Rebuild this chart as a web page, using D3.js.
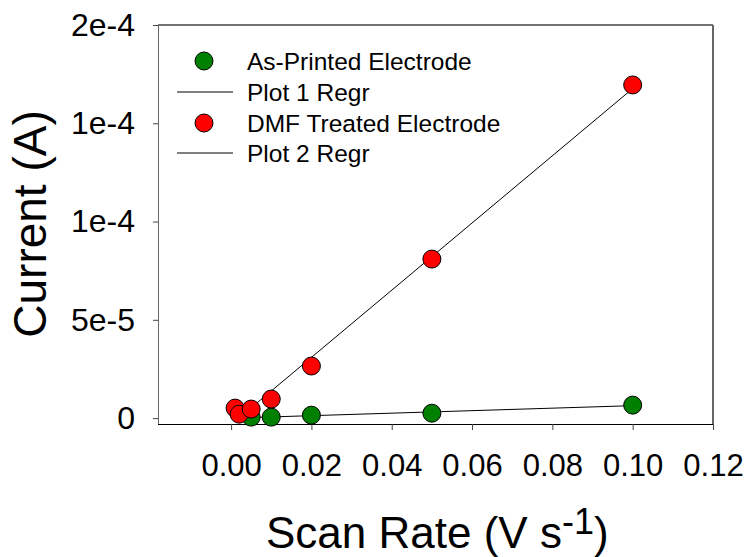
<!DOCTYPE html>
<html>
<head>
<meta charset="utf-8">
<script src="https://cdn.jsdelivr.net/npm/d3@7"></script>
<style>
  body { margin: 0; background: #fff; }
  text { font-family: "Liberation Sans", Arial, sans-serif; fill: #000; }
</style>
</head>
<body>
<div id="chart"></div>
<script>
// data
var printedRate = [0.005, 0.01, 0.02, 0.05, 0.10];
var printedCurrent = [0.5e-6, 0.5e-6, 1.5e-6, 2.5e-6, 6.6e-6];
var dmfRate = [0.001, 0.002, 0.005, 0.01, 0.02, 0.05, 0.10];
var dmfCurrent = [5.1e-6, 2.0e-6, 4.6e-6, 9.7e-6, 2.65e-5, 8.09e-5, 1.695e-4];
var xTicks = [0, 0.02, 0.04, 0.06, 0.08, 0.10, 0.12];
var yTicks = [0, 5e-5, 1e-4, 1.5e-4, 2e-4];
var yTickLabels = ["0", "5e-5", "1e-4", "1e-4", "2e-4"];
var legendLabels = ["As-Printed Electrode", "Plot 1 Regr", "DMF Treated Electrode", "Plot 2 Regr"];

var svgWidth = 749;
var svgHeight = 557;
var chartMargin = { top: 25, right: 36, bottom: 133, left: 158 };
var chartWidth = svgWidth - chartMargin.left - chartMargin.right;
var chartHeight = svgHeight - chartMargin.top - chartMargin.bottom;

var svg = d3.select("#chart")
  .append("svg")
  .attr("width", svgWidth)
  .attr("height", svgHeight);

var chartGroup = svg.append("g")
  .attr("transform", `translate(${chartMargin.left}, ${chartMargin.top})`);

var xScale = d3.scaleLinear()
  .domain([-0.0182, 0.12])
  .range([0, chartWidth]);

var yScale = d3.scaleLinear()
  .domain([-3e-6, 2e-4])
  .range([chartHeight, 0]);

// frame: top and right
chartGroup.append("line")
  .attr("x1", 0).attr("x2", chartWidth)
  .attr("y1", 0).attr("y2", 0)
  .attr("stroke", "#444").attr("stroke-width", 1.5);
chartGroup.append("line")
  .attr("x1", chartWidth).attr("x2", chartWidth)
  .attr("y1", 0).attr("y2", chartHeight)
  .attr("stroke", "#666").attr("stroke-width", 2);

// axes
var bottomAxis = d3.axisBottom(xScale)
  .tickValues(xTicks)
  .tickSize(6)
  .tickSizeOuter(0)
  .tickPadding(24)
  .tickFormat(d3.format(".2f"));

var leftAxis = d3.axisLeft(yScale)
  .tickValues(yTicks)
  .tickSize(5)
  .tickSizeOuter(0)
  .tickPadding(18)
  .tickFormat((d, i) => yTickLabels[i]);

var xAxisG = chartGroup.append("g")
  .attr("transform", `translate(0, ${chartHeight})`)
  .call(bottomAxis);
xAxisG.select(".domain").attr("stroke", "#000").attr("d", `M0,0.5H${chartWidth}`);
xAxisG.selectAll(".tick line").attr("stroke", "#444");
xAxisG.selectAll("text")
  .style("font-size", "31px")
  .style("font-family", "'Liberation Sans', Arial, sans-serif");

var yAxisG = chartGroup.append("g")
  .call(leftAxis);
yAxisG.select(".domain").attr("stroke", "#666").attr("d", `M0.5,0V${chartHeight}`);
yAxisG.selectAll(".tick line").attr("stroke", "#444");
yAxisG.selectAll("text")
  .style("font-size", "32px")
  .style("font-family", "'Liberation Sans', Arial, sans-serif");

// least squares fit over the data range
function regression(xs, ys) {
  var mx = d3.mean(xs), my = d3.mean(ys);
  var sxy = d3.sum(xs, (x, i) => (x - mx) * (ys[i] - my));
  var sxx = d3.sum(xs, x => (x - mx) * (x - mx));
  var slope = sxy / sxx;
  var icpt = my - slope * mx;
  var x0 = d3.min(xs), x1 = d3.max(xs);
  return [[x0, icpt + slope * x0], [x1, icpt + slope * x1]];
}

var line = d3.line()
  .x(d => xScale(d[0]))
  .y(d => yScale(d[1]));

chartGroup.append("path")
  .attr("d", line(regression(printedRate, printedCurrent)))
  .attr("stroke", "#000").attr("stroke-width", 1).attr("fill", "none");
chartGroup.append("path")
  .attr("d", line(regression(dmfRate, dmfCurrent)))
  .attr("stroke", "#000").attr("stroke-width", 1).attr("fill", "none");

var printedData = printedRate.map((x, i) => ({ x: x, y: printedCurrent[i] }));
var dmfData = dmfRate.map((x, i) => ({ x: x, y: dmfCurrent[i] }));

chartGroup.selectAll(".printed")
  .data(printedData)
  .enter()
  .append("circle")
  .attr("class", "printed")
  .attr("cx", d => xScale(d.x))
  .attr("cy", d => yScale(d.y))
  .attr("r", 9)
  .attr("fill", "#008000")
  .attr("stroke", "#000");

chartGroup.selectAll(".dmf")
  .data(dmfData)
  .enter()
  .append("circle")
  .attr("class", "dmf")
  .attr("cx", d => xScale(d.x))
  .attr("cy", d => yScale(d.y))
  .attr("r", 9)
  .attr("fill", "#ff0000")
  .attr("stroke", "#000");

// legend
var legend = svg.append("g");
var rowY = [61, 92, 123, 153];
legendLabels.forEach(function(label, i) {
  if (i % 2 == 0) {
    legend.append("circle")
      .attr("cx", 204).attr("cy", rowY[i]).attr("r", 9)
      .attr("fill", i == 0 ? "#008000" : "#ff0000")
      .attr("stroke", "#000");
  } else {
    legend.append("line")
      .attr("x1", 177).attr("x2", 233)
      .attr("y1", rowY[i]).attr("y2", rowY[i])
      .attr("stroke", "#000").attr("stroke-width", 1);
  }
  legend.append("text")
    .attr("x", 247)
    .attr("y", rowY[i])
    .attr("dy", "0.35em")
    .style("font-size", "24.5px")
    .text(label);
});

// axis titles
svg.append("text")
  .attr("transform", "translate(46, 224) rotate(-90)")
  .attr("text-anchor", "middle")
  .style("font-size", "46px")
  .text("Current (A)");

var xTitle = svg.append("text")
  .attr("x", 266)
  .attr("y", 548)
  .attr("text-anchor", "start")
  .style("font-size", "44px");
xTitle.append("tspan").text("Scan Rate (V s");
xTitle.append("tspan").attr("dy", -14).style("font-size", "36px").text("-1");
xTitle.append("tspan").attr("dy", 14).text(")");
</script>
</body>
</html>
